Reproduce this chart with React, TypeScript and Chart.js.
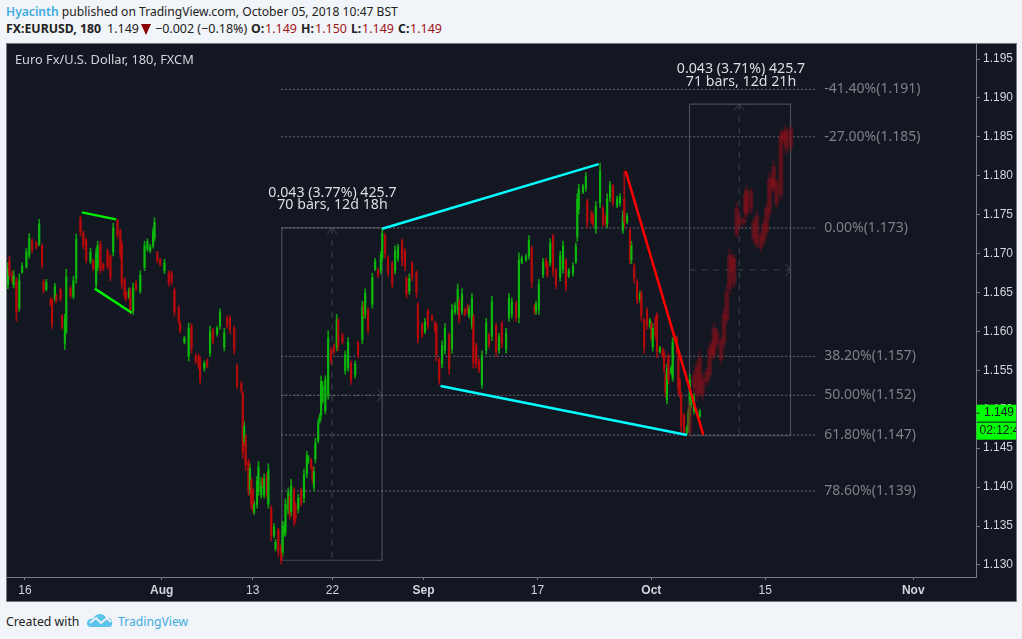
import React, { useEffect, useRef } from "react";
import { Chart, registerables } from "chart.js";

Chart.register(...registerables);

// Every bar: [bar number (3-hour bars since 16 Jul), open, high, low, close]; prices in 1/10000.
const julyBars = [
  [-12,11660,11688,11655,11680],[-11,11690,11697,11667,11672],[-9,11674,11678,11662,11665],[-8,11660,11678,11656,11672],
  [-6,11664,11669,11613,11625],[-4,11630,11674,11626,11665],[-2,11676,11688,11675,11684],[1,11683,11707,11681,11702],
  [3,11698,11726,11694,11720],[5,11716,11719,11701,11705],[8,11713,11716,11706,11708],[10,11712,11744,11710,11738],
  [12,11710,11712,11681,11686],[13,11664,11667,11649,11653],[15,11654,11667,11652,11663],[18,11641,11643,11633,11635],
  [19,11640,11643,11604,11610],[21,11642,11662,11639,11658],[22,11646,11648,11637,11640],[25,11654,11656,11639,11642],
  [26,11620,11622,11603,11606],[28,11585,11622,11577,11616],[29,11600,11680,11597,11670],[32,11655,11658,11643,11646],
  [34,11645,11671,11642,11665],[36,11668,11725,11662,11718],[39,11745,11748,11723,11728],[41,11726,11729,11706,11710],
  [43,11717,11720,11688,11692],[46,11690,11707,11687,11702],[48,11690,11693,11678,11681],[50,11660,11706,11656,11700],
  [51,11682,11716,11678,11710],[53,11712,11716,11675,11680],[55,11686,11688,11678,11680],[58,11703,11706,11680,11684],
  [60,11696,11699,11665,11670],[62,11702,11739,11697,11733],[65,11742,11744,11720,11724],[67,11729,11732,11694,11700],
  [68,11712,11716,11655,11662],[70,11666,11669,11642,11646],[71,11650,11652,11639,11642],[73,11645,11656,11642,11653],
  [74,11653,11656,11622,11626],[76,11626,11662,11622,11656],[78,11662,11665,11652,11655],[81,11652,11678,11649,11672],
  [84,11682,11716,11678,11710],[86,11706,11719,11703,11715],[88,11704,11712,11701,11709],[90,11710,11733,11707,11728],
  [91,11720,11746,11716,11740],[93,11700,11703,11688,11691],[95,11692,11694,11684,11686],
];

const augustBars = [
  [98,11678,11693,11674,11688],[101,11675,11678,11658,11662],[103,11675,11678,11660,11664],[105,11653,11656,11620,11625],
  [108,11630,11633,11610,11614],[109,11610,11613,11598,11601],[112,11586,11594,11584,11591],[115,11568,11611,11562,11604],
  [117,11607,11610,11572,11578],[120,11568,11571,11559,11562],[122,11568,11571,11552,11556],[123,11565,11568,11532,11540],
  [126,11553,11562,11549,11559],[128,11562,11565,11553,11556],[130,11572,11607,11568,11600],[132,11601,11604,11584,11588],
  [135,11597,11607,11594,11604],[137,11607,11629,11603,11624],[140,11580,11604,11575,11598],[142,11617,11620,11604,11608],
  [144,11617,11620,11597,11602],[147,11604,11607,11571,11576],[149,11555,11558,11526,11530],[152,11533,11536,11521,11525],
  [153,11520,11523,11437,11445],[154,11458,11484,11453,11478],[155,11465,11468,11421,11428],[157,11433,11436,11389,11395],
  [158,11396,11430,11391,11424],[159,11409,11412,11372,11378],[160,11396,11399,11367,11372],[161,11368,11382,11365,11378],
  [163,11378,11414,11373,11408],[164,11394,11433,11389,11426],[166,11390,11412,11386,11406],[167,11410,11412,11399,11402],
  [168,11390,11417,11386,11410],[170,11415,11418,11385,11390],[171,11378,11430,11373,11422],[173,11373,11376,11331,11338],
  [175,11338,11353,11335,11349],[176,11321,11333,11318,11329],[178,11344,11347,11311,11318],[180,11324,11327,11301,11306],
  [181,11316,11356,11311,11350],[182,11340,11354,11337,11350],[183,11342,11385,11337,11378],[185,11370,11399,11365,11393],
  [186,11388,11391,11359,11364],[187,11368,11410,11363,11402],[189,11396,11399,11350,11358],[190,11377,11380,11354,11360],
  [192,11372,11391,11367,11386],[194,11396,11399,11376,11380],[196,11386,11423,11380,11416],[198,11417,11446,11412,11440],
  [199,11433,11441,11430,11438],[201,11434,11437,11423,11426],[202,11424,11427,11405,11410],[203,11400,11426,11395,11420],
  [204,11436,11463,11431,11457],[206,11460,11487,11457,11482],[207,11484,11494,11482,11490],[208,11492,11543,11487,11536],
  [209,11510,11536,11507,11530],[211,11498,11543,11494,11538],[213,11518,11601,11513,11592],[215,11576,11579,11558,11562],
  [217,11581,11584,11571,11574],[219,11580,11622,11575,11615],[220,11614,11617,11575,11582],[223,11595,11598,11584,11587],
  [225,11550,11575,11545,11570],[227,11553,11592,11549,11586],[229,11559,11562,11532,11538],[232,11544,11562,11540,11558],
  [234,11585,11588,11566,11570],[237,11590,11639,11584,11632],[238,11634,11637,11617,11621],[239,11622,11655,11617,11649],
  [241,11627,11630,11597,11602],[244,11635,11675,11630,11669],[246,11680,11694,11678,11690],[248,11678,11681,11669,11672],
  [250,11678,11703,11674,11698],[251,11695,11732,11690,11726],[253,11723,11726,11694,11700],[255,11694,11697,11671,11676],
  [258,11687,11690,11656,11662],[260,11678,11710,11674,11704],[262,11694,11712,11690,11708],[265,11716,11719,11684,11690],
  [267,11703,11706,11678,11684],[268,11668,11671,11643,11648],[270,11652,11674,11648,11668],[272,11687,11690,11665,11670],
  [275,11675,11678,11643,11650],[276,11634,11637,11585,11592],[279,11608,11611,11592,11596],
];

const septemberBars = [
  [281,11600,11617,11597,11612],[283,11626,11629,11603,11608],[286,11619,11622,11613,11615],[288,11610,11613,11598,11601],
  [289,11608,11611,11562,11570],[291,11563,11566,11532,11538],[293,11558,11588,11553,11582],[295,11576,11610,11571,11604],
  [298,11595,11598,11545,11552],[300,11578,11635,11572,11628],[302,11625,11637,11622,11633],[304,11628,11661,11622,11654],
  [305,11639,11642,11611,11616],[307,11626,11655,11622,11648],[309,11627,11630,11620,11622],[311,11632,11635,11622,11625],
  [312,11620,11633,11617,11629],[314,11608,11649,11603,11643],[315,11619,11622,11553,11560],[317,11582,11585,11553,11558],
  [319,11562,11565,11547,11551],[321,11532,11575,11527,11569],[324,11576,11617,11571,11611],[326,11595,11598,11579,11583],
  [328,11594,11645,11588,11638],[331,11607,11610,11568,11574],[333,11576,11598,11572,11593],[335,11610,11613,11579,11585],
  [338,11577,11604,11572,11598],[340,11618,11649,11613,11643],[342,11622,11643,11617,11638],[345,11636,11639,11613,11618],
  [347,11618,11701,11611,11692],[349,11689,11697,11687,11694],[352,11692,11699,11690,11696],[354,11697,11723,11693,11717],
  [356,11707,11710,11656,11664],[358,11632,11635,11622,11625],[359,11626,11639,11622,11635],[361,11628,11667,11622,11660],
  [364,11673,11694,11669,11689],[366,11691,11694,11681,11684],[367,11687,11690,11669,11673],[369,11688,11719,11684,11713],
  [371,11722,11725,11671,11678],[373,11678,11681,11655,11660],[376,11670,11703,11665,11697],[378,11680,11716,11675,11710],
  [380,11691,11694,11652,11658],[382,11672,11681,11669,11678],[385,11675,11688,11671,11684],[387,11690,11714,11687,11709],
  [388,11722,11777,11716,11770],[389,11757,11789,11751,11783],[392,11779,11789,11777,11786],[394,11784,11804,11780,11799],
  [395,11767,11770,11733,11740],[398,11752,11755,11739,11742],[399,11749,11752,11735,11738],[401,11732,11767,11726,11760],
  [404,11765,11816,11759,11806],[406,11758,11761,11735,11740],[408,11748,11751,11735,11738],[409,11738,11777,11733,11770],
  [411,11772,11793,11767,11788],[413,11786,11789,11761,11766],[416,11762,11774,11759,11770],[418,11765,11777,11761,11773],
  [420,11730,11755,11726,11749],[421,11770,11806,11733,11740],[423,11741,11752,11738,11748],[425,11730,11733,11687,11693],
  [426,11692,11716,11687,11710],[428,11684,11687,11662,11668],[430,11664,11667,11635,11640],[432,11641,11652,11637,11648],
  [433,11649,11652,11613,11620],[435,11614,11617,11572,11580],[437,11627,11630,11603,11608],[439,11606,11617,11604,11614],
];

const octoberBars = [
  [440,11610,11613,11588,11592],[441,11580,11610,11575,11604],[443,11617,11620,11590,11595],[444,11621,11624,11566,11574],
  [446,11574,11581,11572,11579],[448,11576,11579,11566,11569],[449,11572,11575,11547,11552],[450,11544,11547,11515,11522],
  [451,11512,11558,11507,11552],[452,11568,11571,11532,11538],[454,11547,11556,11545,11553],[455,11540,11592,11536,11586],
  [458,11591,11594,11571,11575],[459,11568,11571,11520,11528],[460,11537,11540,11515,11520],[461,11518,11521,11470,11478],
  [463,11492,11495,11466,11470],[465,11469,11479,11467,11476],[466,11474,11500,11471,11495],[467,11494,11545,11489,11538],
  [468,11505,11521,11502,11516],[470,11498,11520,11494,11515],[474,11491,11500,11489,11497],
];

// The copied "ghost" bars of the projection.
const projectedBars = [
  [467,11470,11511,11466,11505],[470,11528,11549,11523,11544],[472,11518,11562,11511,11555],[474,11520,11575,11515,11566],
  [476,11540,11545,11513,11520],[479,11535,11553,11530,11548],[481,11544,11585,11539,11578],[483,11583,11588,11565,11570],
  [484,11570,11611,11565,11604],[486,11600,11604,11579,11584],[489,11588,11592,11558,11564],[491,11585,11629,11579,11622],
  [493,11615,11658,11610,11650],[495,11655,11706,11649,11698],[497,11695,11699,11675,11680],[498,11694,11699,11656,11662],
  [500,11725,11765,11720,11758],[502,11745,11751,11733,11738],[505,11744,11748,11735,11740],[506,11752,11783,11748,11776],
  [507,11780,11787,11746,11752],[510,11780,11784,11751,11758],[512,11740,11744,11714,11720],[514,11712,11755,11707,11748],
  [517,11724,11729,11703,11708],[519,11716,11744,11712,11738],[521,11728,11765,11723,11758],[523,11752,11804,11746,11796],
  [525,11795,11800,11778,11784],[526,11785,11819,11780,11812],[528,11791,11796,11759,11765],[531,11776,11858,11770,11850],
  [532,11854,11858,11841,11846],[534,11844,11864,11838,11858],[535,11856,11861,11828,11834],[538,11838,11865,11832,11860],
];

const priceTicks = [1.13, 1.135, 1.14, 1.145, 1.15, 1.155, 1.16, 1.165, 1.17, 1.175, 1.18, 1.185, 1.19, 1.195];
const dateTickBars = [0, 96, 160, 216, 280, 360, 440, 520, 624];
const dateTickLabels = ["16", "Aug", "13", "22", "Sep", "17", "Oct", "15", "Nov"];
const monthLabels = ["Aug", "Sep", "Oct", "Nov"];

const fibPrices = [11911, 11850, 11733, 11568, 11518, 11467, 11395];
const fibLabels = ["-41.40%(1.191)", "-27.00%(1.185)", "0.00%(1.173)", "38.20%(1.157)", "50.00%(1.152)", "61.80%(1.147)", "78.60%(1.139)"];
const fibRange = [180, 556.5];
const fibLabelBar = 561.5;

const greenUpper = [[40, 11753], [64, 11744]];
const greenLower = [[49, 11655], [75, 11624]];
const cyanUpper = [[251, 11732], [403, 11815]];
const cyanLower = [[292, 11530], [465, 11467]];
const redLine = [[422, 11806], [476.5, 11467]];

const firstBox = [[180.4, 11733], [250.9, 11733], [250.9, 11306], [180.4, 11306], [180.4, 11733]];
const firstBoxVertical = [[215.8, 11733], [215.8, 11306]];
const firstBoxHorizontal = [[180.4, 11518], [250.9, 11518]];
const firstBoxUpArrow = [[212.3, 11725], [215.8, 11733], [219.3, 11725]];
const firstBoxRightArrow = [[247.4, 11526], [250.9, 11518], [247.4, 11510]];
const secondBox = [[466.8, 11892], [537.8, 11892], [537.8, 11466], [466.8, 11466], [466.8, 11892]];
const secondBoxVertical = [[501.8, 11892], [501.8, 11466]];
const secondBoxHorizontal = [[466.8, 11679], [537.8, 11679]];
const secondBoxUpArrow = [[498.3, 11884], [501.8, 11892], [505.3, 11884]];
const secondBoxRightArrow = [[534.3, 11687], [537.8, 11679], [534.3, 11671]];

const firstMeasure = { bar: 216, price: 11778, lines: ["0.043 (3.77%) 425.7", "70 bars, 12d 18h"] };
const secondMeasure = { bar: 503, price: 11937, lines: ["0.043 (3.71%) 425.7", "71 bars, 12d 21h"] };

const chartTitle = "Euro Fx/U.S. Dollar, 180, FXCM";
const lastPrice = "1.149";
const countdown = "02:12:4";

const UI = '"Noto Sans", sans-serif';
const AXIS = '"Liberation Sans", Arial, sans-serif';

const realBars = [...julyBars, ...augustBars, ...septemberBars, ...octoberBars];
const p = (v: number) => v / 10000;
const pts = (rows: number[][]) => rows.map(([x, y]) => ({ x, y: p(y) }));

function line(rows: number[][], color: string, width: number, order: number, dash: number[] = []) {
  return {
    type: "line" as const,
    data: pts(rows),
    borderColor: color,
    borderWidth: width,
    borderDash: dash,
    pointRadius: 0,
    tension: 0,
    fill: false,
    order,
  };
}

function bars(rows: number[][], lo: number, hi: number, thickness: number, color: any, order: number) {
  return {
    type: "bar" as const,
    data: rows.map((r) => ({ x: r[0], y: [p(r[lo]), p(r[hi])] })),
    backgroundColor: color,
    barThickness: thickness,
    grouped: false,
    borderWidth: 0,
    order,
  };
}

const labelsPlugin = {
  id: "chartText",
  afterDatasetsDraw(chart: any) {
    const { ctx, scales, chartArea } = chart;
    const x = scales.x;
    const y = scales.y;
    ctx.save();
    ctx.textBaseline = "middle";
    ctx.font = `12.8px ${UI}`;
    ctx.fillStyle = "#d1d4dc";
    ctx.textAlign = "left";
    ctx.fillText(chartTitle, 8, 16);

    ctx.fillStyle = "#7d8087";
    ctx.font = `14px ${UI}`;
    fibLabels.forEach((t, i) => ctx.fillText(t, x.getPixelForValue(fibLabelBar), y.getPixelForValue(p(fibPrices[i]))));

    ctx.fillStyle = "#dcdee3";
    ctx.textAlign = "center";
    ctx.font = `14.2px ${UI}`;
    [firstMeasure, secondMeasure].forEach((m) => {
      m.lines.forEach((t, i) => {
        ctx.fillText(t, x.getPixelForValue(m.bar), y.getPixelForValue(p(m.price)) + i * 12.5);
      });
    });

    // price badges on the axis
    const left = chartArea.right + 0.5;
    const w = chart.width - left;
    const mid = y.getPixelForValue(1.1495);
    ctx.fillStyle = "#00ff00";
    ctx.fillRect(left, mid - 8.5, w, 17);
    ctx.fillRect(left, mid + 9.5, w, 17);
    ctx.fillStyle = "#131722";
    ctx.fillRect(left, mid - 0.5, 3, 1);
    ctx.textAlign = "left";
    ctx.font = `12px ${AXIS}`;
    ctx.fillText(lastPrice, left + 7.5, mid);
    ctx.fillText(countdown, left + 3, mid + 18);
    ctx.restore();
  },
};

const clearPadding = (s: any) => {
  s.paddingTop = 0;
  s.paddingBottom = 0;
  s.paddingLeft = 0;
  s.paddingRight = 0;
};

export default function App() {
  const ref = useRef<HTMLCanvasElement>(null);

  useEffect(() => {
    document.body.style.margin = "0";
    const wickColor = (r: number[]) => (r[4] >= r[1] ? "#0f9c0f" : "#a00c10");
    const bodyColor = (r: number[]) => (r[4] >= r[1] ? "#0cb80c" : "#b80a0a");
    const chart = new Chart(ref.current as HTMLCanvasElement, {
      type: "bar",
      data: {
        datasets: [
          line(redLine, "#ff0000", 2.5, 0),
          line(cyanUpper, "#00ffff", 2.5, 0),
          line(cyanLower, "#00ffff", 2.5, 0),
          line(greenUpper, "#00ee00", 2.5, 0),
          line(greenLower, "#00ee00", 2.5, 0),
          bars(projectedBars, 1, 4, 4.5, "rgba(140,16,26,0.42)", 1),
          bars(projectedBars, 3, 2, 2, "rgba(130,16,24,0.4)", 2),
          bars(realBars, 1, 4, 1.5, realBars.map(bodyColor), 3),
          bars(realBars, 3, 2, 1, realBars.map(wickColor), 4),
          ...fibPrices.map((v) => line([[fibRange[0], v], [fibRange[1], v]], "#6c6f77", 1, 5, [2, 2])),
          line(firstBox, "#4a4d57", 1.2, 6),
          line(secondBox, "#4a4d57", 1.2, 6),
          line(firstBoxVertical, "#3f424b", 1, 6, [6, 6]),
          line(firstBoxHorizontal, "#3f424b", 1, 6, [6, 6]),
          line(secondBoxVertical, "#3f424b", 1, 6, [6, 6]),
          line(secondBoxHorizontal, "#3f424b", 1, 6, [6, 6]),
          line(firstBoxUpArrow, "#3f424b", 1, 6),
          line(firstBoxRightArrow, "#3f424b", 1, 6),
          line(secondBoxUpArrow, "#3f424b", 1, 6),
          line(secondBoxRightArrow, "#3f424b", 1, 6),
        ],
      } as any,
      options: {
        animation: false,
        responsive: false,
        layout: { padding: 0 },
        plugins: { legend: { display: false }, tooltip: { enabled: false } },
        scales: {
          x: {
            type: "linear",
            offset: false,
            min: -12.63,
            max: 668.1,
            afterFit: (s: any) => { s.height = 24; clearPadding(s); },
            afterBuildTicks: (s: any) => { s.ticks = dateTickBars.map((value) => ({ value })); },
            grid: { offset: false, drawOnChartArea: false, tickLength: 3, color: "#787b86" },
            border: { color: "#787b86" },
            ticks: {
              autoSkip: false,
              maxRotation: 0,
              padding: 3,
              color: "#d1d4dc",
              font: (c: any) => ({
                family: AXIS,
                size: 12,
                weight: monthLabels.includes(dateTickLabels[dateTickBars.indexOf(c.tick?.value)]) ? "bold" : "normal",
              }),
              callback: (v: any) => dateTickLabels[dateTickBars.indexOf(v)] ?? "",
            },
          },
          y: {
            type: "linear",
            position: "right",
            min: 1.12845,
            max: 1.19693,
            afterFit: (s: any) => { s.width = 40; clearPadding(s); },
            afterBuildTicks: (s: any) => { s.ticks = priceTicks.map((value) => ({ value })); },
            grid: { drawOnChartArea: false, tickLength: 4, color: "#787b86" },
            border: { color: "#787b86" },
            ticks: {
              autoSkip: false,
              padding: 3,
              color: "#d1d4dc",
              font: { family: AXIS, size: 12 },
              callback: (v: any) => Number(v).toFixed(3),
            },
          },
        },
      } as any,
      plugins: [labelsPlugin],
    });
    return () => chart.destroy();
  }, []);

  const piece = (left: number, text: string, style: any = {}) => (
    <span style={{ position: "absolute", left, top: 0, ...style }}>{text}</span>
  );
  const red = { color: "#a31515" };
  const bold = { fontWeight: 700, fontSize: 12.3 };
  return (
    <div style={{ position: "relative", width: 1022, height: 639, background: "#f1f4f8", overflow: "hidden", fontFamily: UI, fontSize: 12.5, color: "#222" }}>
      <div style={{ position: "absolute", left: 6, top: 3, whiteSpace: "nowrap", lineHeight: "18px", fontSize: 12.1 }}>
        <span style={{ color: "#41ace0", fontWeight: 600 }}>Hyacinth</span> published on TradingView.com, October 05, 2018 10:47 BST
      </div>
      <div style={{ position: "absolute", left: 0, top: 20, width: 1022, whiteSpace: "nowrap", lineHeight: "18px" }}>
        {piece(6, "FX:EURUSD, 180", bold)}
        {piece(107, "1.149")}
        <svg width="10" height="11" style={{ position: "absolute", left: 141, top: 4 }}><polygon points="0,0 10,0 5,11" fill="#8b0000" /></svg>
        {piece(155, "−0.002 (−0.18%)")}
        {piece(251, "O:", bold)}
        {piece(265, "1.149", red)}
        {piece(301, "H:", bold)}
        {piece(315, "1.150", red)}
        {piece(351, "L:", bold)}
        {piece(362, "1.149", red)}
        {piece(398, "C:", bold)}
        {piece(410, "1.149", red)}
      </div>
      <div style={{ position: "absolute", left: 6, top: 43, width: 1011, height: 559, background: "#131722", border: "1px solid #787b86", boxSizing: "border-box" }}>
        <canvas ref={ref} width={1009} height={557} style={{ display: "block" }} />
      </div>
      <div style={{ position: "absolute", left: 6, top: 613, whiteSpace: "nowrap", lineHeight: "18px", fontSize: 12.3 }}>Created with</div>
      <svg width="26" height="16" viewBox="0 0 26 16" style={{ position: "absolute", left: 87, top: 612 }}>
        <path d="M0 12 C0 7 4 6 6 7 C8 1 17 0 19 6 C23 5 26 8 25 12 C25 15 23 15 21 15 L4 15 C2 15 0 14 0 12 Z" fill="#5cc3ea" />
        <path d="M3 11 L9 6 L14 11 L20 6 L24 10" fill="none" stroke="#f1f4f8" strokeWidth="2" />
      </svg>
      <div style={{ position: "absolute", left: 118, top: 613, whiteSpace: "nowrap", lineHeight: "18px", color: "#41ace0", fontSize: 12.2 }}>TradingView</div>
    </div>
  );
}
